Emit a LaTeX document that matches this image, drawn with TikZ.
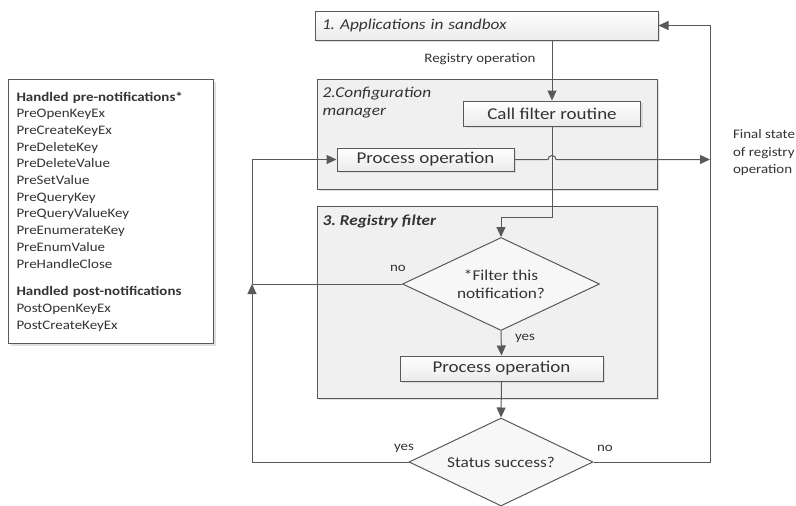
\documentclass[tikz,border=0pt]{standalone}
\usepackage{fontspec}
\setmainfont{Carlito}[FakeStretch=1.15]
\usetikzlibrary{shapes.geometric,shadows,arrows.meta,calc}
\frenchspacing

\begin{document}
\begin{tikzpicture}[x=1pt, y=-1pt,
    line/.style={draw=black!65, line width=1pt},
    arr/.style={line, -{Triangle[length=10pt, width=9pt]}},
    shade/.style={drop shadow={shadow xshift=2pt, shadow yshift=-2pt, fill=black!18, opacity=.7}},
    panel/.style={draw=black!65, line width=1pt, fill=black!6, shade},
    stepbox/.style={draw=black!65, line width=1pt, top color=white, bottom color=black!8, shade,
      font=\fontsize{16.5}{19}\selectfont, text=black!80, inner sep=0pt},
    choice/.style={diamond, aspect=2.1, draw=black!65, line width=1pt, fill=black!3, inner sep=0pt,
      align=center, font=\fontsize{15}{18}\selectfont, text=black!80},
    tag/.style={font=\fontsize{13}{17.5}\selectfont, text=black!80},
    title/.style={font=\fontsize{15}{18.5}\selectfont\itshape, text=black!80}]
  \useasboundingbox (0,0) rectangle (796,506);
  % ---------------- list of handled notifications ----------------
  \node[draw=black!65, line width=1pt, fill=white, shade, anchor=north west, text width=189pt,
    inner sep=8pt, minimum height=264pt, align=left, font=\fontsize{13}{16.7}\selectfont, text=black!80]
    (notes) at (8,79) {\textbf{Handled pre-notifications*}\\ PreOpenKeyEx\\ PreCreateKeyEx\\
    PreDeleteKey\\ PreDeleteValue\\ PreSetValue\\ PreQueryKey\\ PreQueryValueKey\\ PreEnumerateKey\\
    PreEnumValue\\ PreHandleClose\\[11pt] \textbf{Handled post-notifications}\\ PostOpenKeyEx\\ PostCreateKeyEx};
  % ---------------- panels ----------------
  \node[panel, minimum width=340pt, minimum height=110pt] (cfg) at (487,134) {};
  \node[title, anchor=north west, align=left, inner sep=0pt] (cfgname)
    at ([xshift=6pt, yshift=-8pt]cfg.north west) {2.Configuration\\manager};
  \node[panel, minimum width=340pt, minimum height=192pt] (flt) at (487,302) {};
  \node[title, anchor=north west, inner sep=0pt] (fltname)
    at ([xshift=6pt, yshift=-9pt]flt.north west) {\bfseries 3. Registry filter};
  % ---------------- steps ----------------
  \node[stepbox, title, text width=329pt, inner xsep=7pt, minimum height=29pt, align=left]
    (apps) at (486.5,25.5) {1. Applications in sandbox};
  \node[stepbox, minimum width=177pt, minimum height=25pt] (callf) at (552,113.5) {Call filter routine};
  \node[stepbox, minimum width=177pt, minimum height=23pt] (procA) at (425.5,159.5) {Process operation};
  \node[choice, minimum width=197pt, minimum height=93pt] (dec1) at (501,284) {*Filter this\\notification?};
  \node[stepbox, minimum width=203pt, minimum height=25pt] (procB) at (501.5,368.5) {Process operation};
  \node[choice, minimum width=184pt, minimum height=88pt] (dec2) at (501,462) {Status success?};
  \coordinate (lline) at (252,0);
  \coordinate (rline) at (710,0);
  % ---------------- connectors ----------------
  \draw[arr] (apps.south -| callf.north) -- (callf.north);
  \node[tag, anchor=east] (regop) at (539,59) {Registry operation};
  \draw[arr] (callf.south) |- ($(dec1.north)+(0,-20)$) -- (dec1.north);
  \draw[arr] (procA.east) -- ($(procA.east -| callf.south)+(-4,0)$)
    arc[start angle=180, end angle=0, radius=4pt] -- (procA.east -| rline);
  \node[tag, anchor=west, align=left] (final) at (729.5,153) {Final state\\of registry\\operation};
  \draw[arr] (dec1.south) -- (procB.north);
  \node[tag] (yes1) at (525,338) {yes};
  \draw[arr] (procB.south) -- (dec2.north);
  \draw[arr] (dec1.west) -| (procA.west -| lline) -- (procA.west);
  \node[tag] (no1) at (398,268) {no};
  \draw[arr] (dec2.west) -| (dec1.west -| lline);
  \node[tag] (yes2) at (404,448) {yes};
  \draw[arr] (dec2.east) -| (apps.east -| rline) -- (apps.east);
  \node[tag] (no2) at (605,448) {no};
\end{tikzpicture}
\end{document}
